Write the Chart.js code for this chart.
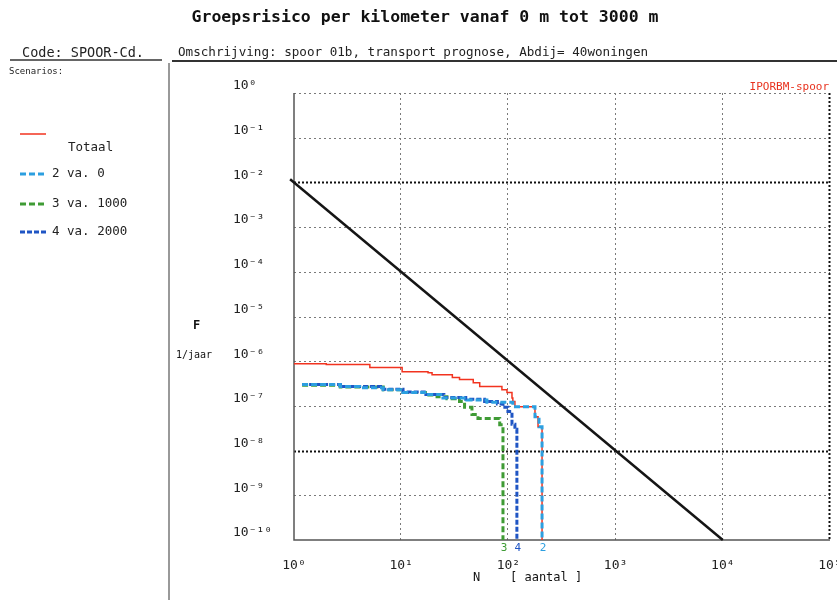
<!DOCTYPE html>
<html>
<head>
<meta charset="utf-8">
<title>Groepsrisico per kilometer</title>
<script src="https://cdn.jsdelivr.net/npm/chart.js@4"></script>
<style>
  html, body { margin: 0; padding: 0; background: #fff; }
  canvas { display: block; }
</style>
</head>
<body>
<canvas id="frChart" width="837" height="600"></canvas>
<script>
// ticks (N horizontally, F in 1/jaar vertically)
const xTicks = [1, 10, 100, 1000, 10000, 100000];
const xTickLabels = ['10⁰', '10¹', '10²', '10³', '10⁴', '10⁵'];
const yTicks = [1, 1e-1, 1e-2, 1e-3, 1e-4, 1e-5, 1e-6, 1e-7, 1e-8, 1e-9, 1e-10];
const yTickLabels = ['10⁰', '10⁻¹', '10⁻²', '10⁻³', '10⁻⁴', '10⁻⁵', '10⁻⁶', '10⁻⁷', '10⁻⁸', '10⁻⁹', '10⁻¹⁰'];

// orientatiewaarde: 10^-2 / N^2
const normN = [0.92, 10000];
const normF = [1.18e-2, 1e-10];

// Totaal
const totaalN = [1, 2.0, 5.1, 10.2, 17.8, 19.4, 30, 35, 47, 54, 87, 97, 108, 110, 115, 177, 189, 206];
const totaalF = [8.8e-7, 8.4e-7, 7.2e-7, 5.8e-7, 5.5e-7, 5.0e-7, 4.3e-7, 3.9e-7, 3.3e-7, 2.7e-7, 2.3e-7, 2.0e-7, 1.5e-7, 1.25e-7, 9.6e-8, 5.7e-8, 3.4e-8, 1e-10];

// scenario 2 va. 0
const sc2N = [1.19, 2.7, 4.1, 6.8, 10.4, 17.4, 24.5, 41, 63, 110, 177, 193, 206];
const sc2F = [3.0e-7, 2.7e-7, 2.55e-7, 2.3e-7, 2.0e-7, 1.8e-7, 1.5e-7, 1.35e-7, 1.2e-7, 9.6e-8, 5.7e-8, 3.4e-8, 1e-10];

// scenario 3 va. 1000
const sc3N = [1.19, 2.7, 6.8, 10.4, 17.4, 21.6, 26.7, 35, 39, 45.7, 52, 83, 89];
const sc3F = [2.9e-7, 2.65e-7, 2.3e-7, 2.0e-7, 1.75e-7, 1.6e-7, 1.45e-7, 1.25e-7, 9.3e-8, 6.4e-8, 5.2e-8, 3.8e-8, 1e-10];

// scenario 4 va. 2000
const sc4N = [1.19, 2.7, 6.8, 10.4, 17, 25, 40, 60, 79, 89, 99, 108, 115, 120];
const sc4F = [3.0e-7, 2.7e-7, 2.35e-7, 2.05e-7, 1.8e-7, 1.55e-7, 1.4e-7, 1.25e-7, 1.1e-7, 9.3e-8, 7.5e-8, 3.9e-8, 3.0e-8, 1e-10];

const scenarioLabels = ['Totaal', '2 va. 0', '3 va. 1000', '4 va. 2000'];
const scenarioNumbers = ['', '2', '3', '4'];

const MONO = '"DejaVu Sans Mono", "Liberation Mono", monospace';

function toPoints(ns, fs) {
    return ns.map((n, i) => ({ x: n, y: fs[i] }));
}

// gridlines and axis lines, drawn from the scales
const gridPlugin = {
    id: 'fnGrid',
    beforeDatasetsDraw(chart) {
        const { ctx, chartArea: a, scales: { x, y } } = chart;
        ctx.save();
        yTicks.forEach(v => {
            if (v === 1e-10) return;
            const py = Math.round(y.getPixelForValue(v)) + 0.5;
            const strong = v === 1e-2 || v === 1e-8;
            ctx.strokeStyle = strong ? '#111' : '#7a7a7a';
            ctx.lineWidth = strong ? 2 : 1;
            ctx.setLineDash(strong ? [2, 2] : [2, 3]);
            ctx.beginPath();
            ctx.moveTo(a.left, py);
            ctx.lineTo(a.right, py);
            ctx.stroke();
        });
        xTicks.forEach(v => {
            if (v === 1) return;
            const px = Math.round(x.getPixelForValue(v)) - 0.5;
            const strong = v === 100000;
            ctx.strokeStyle = strong ? '#111' : '#7a7a7a';
            ctx.lineWidth = strong ? 2 : 1;
            ctx.setLineDash(strong ? [2, 2] : [2, 3]);
            ctx.beginPath();
            ctx.moveTo(px, a.top);
            ctx.lineTo(px, a.bottom);
            ctx.stroke();
        });
        ctx.setLineDash([]);
        ctx.strokeStyle = '#555';
        ctx.lineWidth = 1.5;
        ctx.beginPath();
        ctx.moveTo(a.left, a.top);
        ctx.lineTo(a.left, a.bottom);
        ctx.lineTo(a.right, a.bottom);
        ctx.stroke();
        ctx.restore();
    }
};

// header, legend and free texts
const textPlugin = {
    id: 'fnTexts',
    afterDraw(chart) {
        const { ctx, scales: { x } } = chart;
        ctx.save();
        ctx.fillStyle = '#111';
        ctx.textBaseline = 'middle';

        ctx.font = 'bold 16.5px ' + MONO;
        ctx.textAlign = 'center';
        ctx.fillText('Groepsrisico per kilometer vanaf 0 m tot 3000 m', 425, 18);

        ctx.textAlign = 'left';
        ctx.fillStyle = '#222';
        ctx.font = '13.5px ' + MONO;
        ctx.fillText('Code: SPOOR-Cd.', 22, 53);
        ctx.font = '12.6px ' + MONO;
        ctx.fillText('Omschrijving: spoor 01b, transport prognose, Abdij= 40woningen', 178, 53);
        ctx.font = '9px ' + MONO;
        ctx.fillText('Scenarios:', 9, 72);

        // header rules and panel divider
        ctx.strokeStyle = '#333';
        ctx.lineWidth = 1.5;
        ctx.beginPath();
        ctx.moveTo(10, 60); ctx.lineTo(162, 60);
        ctx.stroke();
        ctx.lineWidth = 2;
        ctx.beginPath();
        ctx.moveTo(172, 61); ctx.lineTo(837, 61);
        ctx.stroke();
        ctx.strokeStyle = '#777';
        ctx.lineWidth = 1.5;
        ctx.beginPath();
        ctx.moveTo(169, 63); ctx.lineTo(169, 600);
        ctx.stroke();

        // legend
        const rows = [
            { ds: 1, ly: 134, tx: 68, ty: 148 },
            { ds: 2, ly: 174, tx: 52, ty: 174 },
            { ds: 3, ly: 204, tx: 52, ty: 204 },
            { ds: 4, ly: 232, tx: 52, ty: 232 }
        ];
        ctx.font = '12.5px ' + MONO;
        rows.forEach(r => {
            const d = chart.data.datasets[r.ds];
            ctx.strokeStyle = d.borderColor;
            ctx.lineWidth = d.borderWidth;
            ctx.setLineDash(d.borderDash || []);
            ctx.beginPath();
            ctx.moveTo(20, r.ly); ctx.lineTo(46, r.ly);
            ctx.stroke();
            ctx.fillStyle = '#222';
            ctx.fillText(d.label, r.tx, r.ty);
        });
        ctx.setLineDash([]);

        // axis titles
        ctx.fillStyle = '#111';
        ctx.font = 'bold 12px ' + MONO;
        ctx.fillText('F', 193, 326);
        ctx.font = '10px ' + MONO;
        ctx.fillText('1/jaar', 176, 355);
        ctx.font = '12px ' + MONO;
        ctx.fillText('N', 473, 578);
        ctx.fillText('[ aantal ]', 510, 578);

        ctx.fillStyle = '#e8321e';
        ctx.font = '11px ' + MONO;
        ctx.textAlign = 'right';
        ctx.fillText('IPORBM-spoor', 829, 87);

        // scenario numbers at the end of each curve
        ctx.textAlign = 'center';
        ctx.font = '11px ' + MONO;
        [2, 3, 4].forEach(i => {
            const d = chart.data.datasets[i];
            const last = d.data[d.data.length - 1];
            ctx.fillStyle = d.borderColor;
            ctx.fillText(scenarioNumbers[i - 1], x.getPixelForValue(last.x) + 1, 548);
        });
        ctx.restore();
    }
};

const tickFont = { family: MONO, size: 13 };

new Chart(document.getElementById('frChart'), {
    type: 'line',
    data: {
        datasets: [
            {
                label: 'norm',
                data: toPoints(normN, normF),
                borderColor: '#151515',
                borderWidth: 2.5,
                pointRadius: 0,
                clip: false,
                order: 0
            },
            {
                label: scenarioLabels[0],
                data: toPoints(totaalN, totaalF),
                borderColor: '#f2331f',
                borderWidth: 1.5,
                stepped: true,
                pointRadius: 0,
                order: 5
            },
            {
                label: scenarioLabels[1],
                data: toPoints(sc2N, sc2F),
                borderColor: '#2c9fe0',
                borderWidth: 3,
                borderDash: [6, 3],
                stepped: true,
                pointRadius: 0,
                order: 2
            },
            {
                label: scenarioLabels[2],
                data: toPoints(sc3N, sc3F),
                borderColor: '#3f9b35',
                borderWidth: 3,
                borderDash: [6, 3],
                stepped: true,
                pointRadius: 0,
                order: 4
            },
            {
                label: scenarioLabels[3],
                data: toPoints(sc4N, sc4F),
                borderColor: '#1f55c4',
                borderWidth: 3,
                borderDash: [5, 2],
                stepped: true,
                pointRadius: 0,
                order: 3
            }
        ]
    },
    options: {
        responsive: false,
        animation: false,
        events: [],
        layout: { padding: { left: 233, top: 93, right: 7, bottom: 30 } },
        plugins: {
            legend: { display: false },
            tooltip: { enabled: false }
        },
        scales: {
            x: {
                type: 'logarithmic',
                min: 1,
                max: 100000,
                grid: { display: false },
                border: { display: false },
                afterBuildTicks: s => { s.ticks = xTicks.map(v => ({ value: v })); },
                afterFit: s => { s.height = 30; s.paddingLeft = 0; s.paddingRight = 0; },
                ticks: {
                    autoSkip: false,
                    maxRotation: 0,
                    padding: 10,
                    color: '#222',
                    font: tickFont,
                    callback: v => xTickLabels[xTicks.indexOf(v)]
                }
            },
            y: {
                type: 'logarithmic',
                min: 1e-10,
                max: 1,
                grid: { display: false },
                border: { display: false },
                afterBuildTicks: s => { s.ticks = yTicks.map(v => ({ value: v })); },
                afterFit: s => { s.width = 61; s.paddingTop = 0; s.paddingBottom = 0; },
                ticks: {
                    autoSkip: false,
                    crossAlign: 'far',
                    labelOffset: -7,
                    padding: 0,
                    color: '#222',
                    font: tickFont,
                    callback: v => yTickLabels[yTicks.indexOf(v)]
                }
            }
        }
    },
    plugins: [gridPlugin, textPlugin]
});
</script>
</body>
</html>
